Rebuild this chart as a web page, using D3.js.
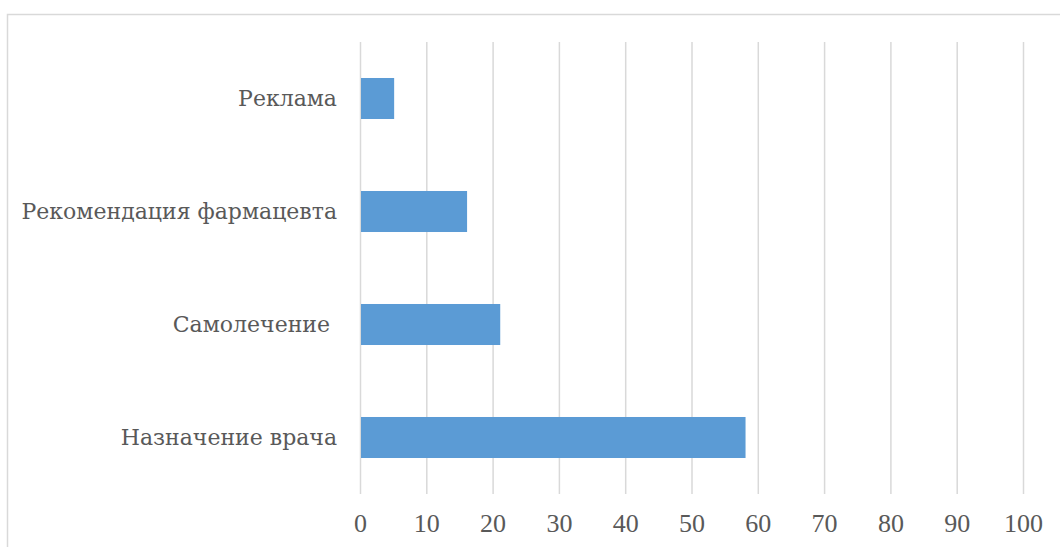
<!DOCTYPE html>
<html>
<head>
<meta charset="utf-8">
<script src="https://cdn.jsdelivr.net/npm/d3@7"></script>
<style>
  body { margin: 0; background: #fff; }
  svg text { fill: #595959; }
</style>
</head>
<body>
<script>
var categories = ['Реклама', 'Рекомендация фармацевта', 'Самолечение ', 'Назначение врача'];
var values = [5, 16, 21, 58];
var tickValues = [0, 10, 20, 30, 40, 50, 60, 70, 80, 90, 100];

var margin = { top: 42, right: 37, bottom: 53, left: 360 },
    width = 1060 - margin.left - margin.right,
    height = 547 - margin.top - margin.bottom;

var svg = d3.select('body').append('svg')
    .attr('width', 1060)
    .attr('height', 547);

// chart frame
svg.append('rect')
    .attr('x', 7.5).attr('y', 14.5)
    .attr('width', 1100).attr('height', 600)
    .attr('fill', 'none').attr('stroke', '#d9d9d9').attr('stroke-width', 1.5);

var g = svg.append('g')
    .attr('transform', 'translate(' + margin.left + ',' + margin.top + ')');

var xScale = d3.scaleLinear().domain([0, 100]).range([0, 663]);
var yScale = d3.scaleBand().domain(categories).range([0, 452]).paddingInner(0.637).paddingOuter(0.3185);

// gridlines
g.selectAll('.grid').data(tickValues).enter().append('line')
    .attr('class', 'grid')
    .attr('x1', function(d){ return xScale(d) + 0.5; })
    .attr('x2', function(d){ return xScale(d) + 0.5; })
    .attr('y1', 0).attr('y2', 452)
    .attr('stroke', '#d9d9d9').attr('stroke-width', 1.5);

// bars
g.selectAll('.bar').data(values).enter().append('rect')
    .attr('class', 'bar')
    .attr('x', xScale(0) + 1)
    .attr('y', function(d, i){ return yScale(categories[i]); })
    .attr('width', function(d){ return xScale(d) - xScale(0); })
    .attr('height', yScale.bandwidth())
    .attr('fill', '#5b9bd5');

// x axis labels
var xAxis = d3.axisBottom(xScale).tickValues(tickValues).tickSize(0).tickPadding(20);
var xg = g.append('g').attr('transform', 'translate(0,' + 452 + ')').call(xAxis);
xg.attr('font-family', '"Liberation Serif", serif');
xg.select('.domain').remove();
xg.selectAll('text').attr('font-size', 26).attr('fill', '#595959');

// y axis labels (DejaVu Serif has the Cyrillic glyphs)
var yAxis = d3.axisLeft(yScale).tickSize(0).tickPadding(23);
var yg = g.append('g').call(yAxis);
yg.attr('font-family', '"DejaVu Serif", serif');
yg.select('.domain').remove();
yg.selectAll('text').attr('font-size', 22)
    .style('white-space', 'pre').attr('fill', '#595959');
</script>
</body>
</html>
